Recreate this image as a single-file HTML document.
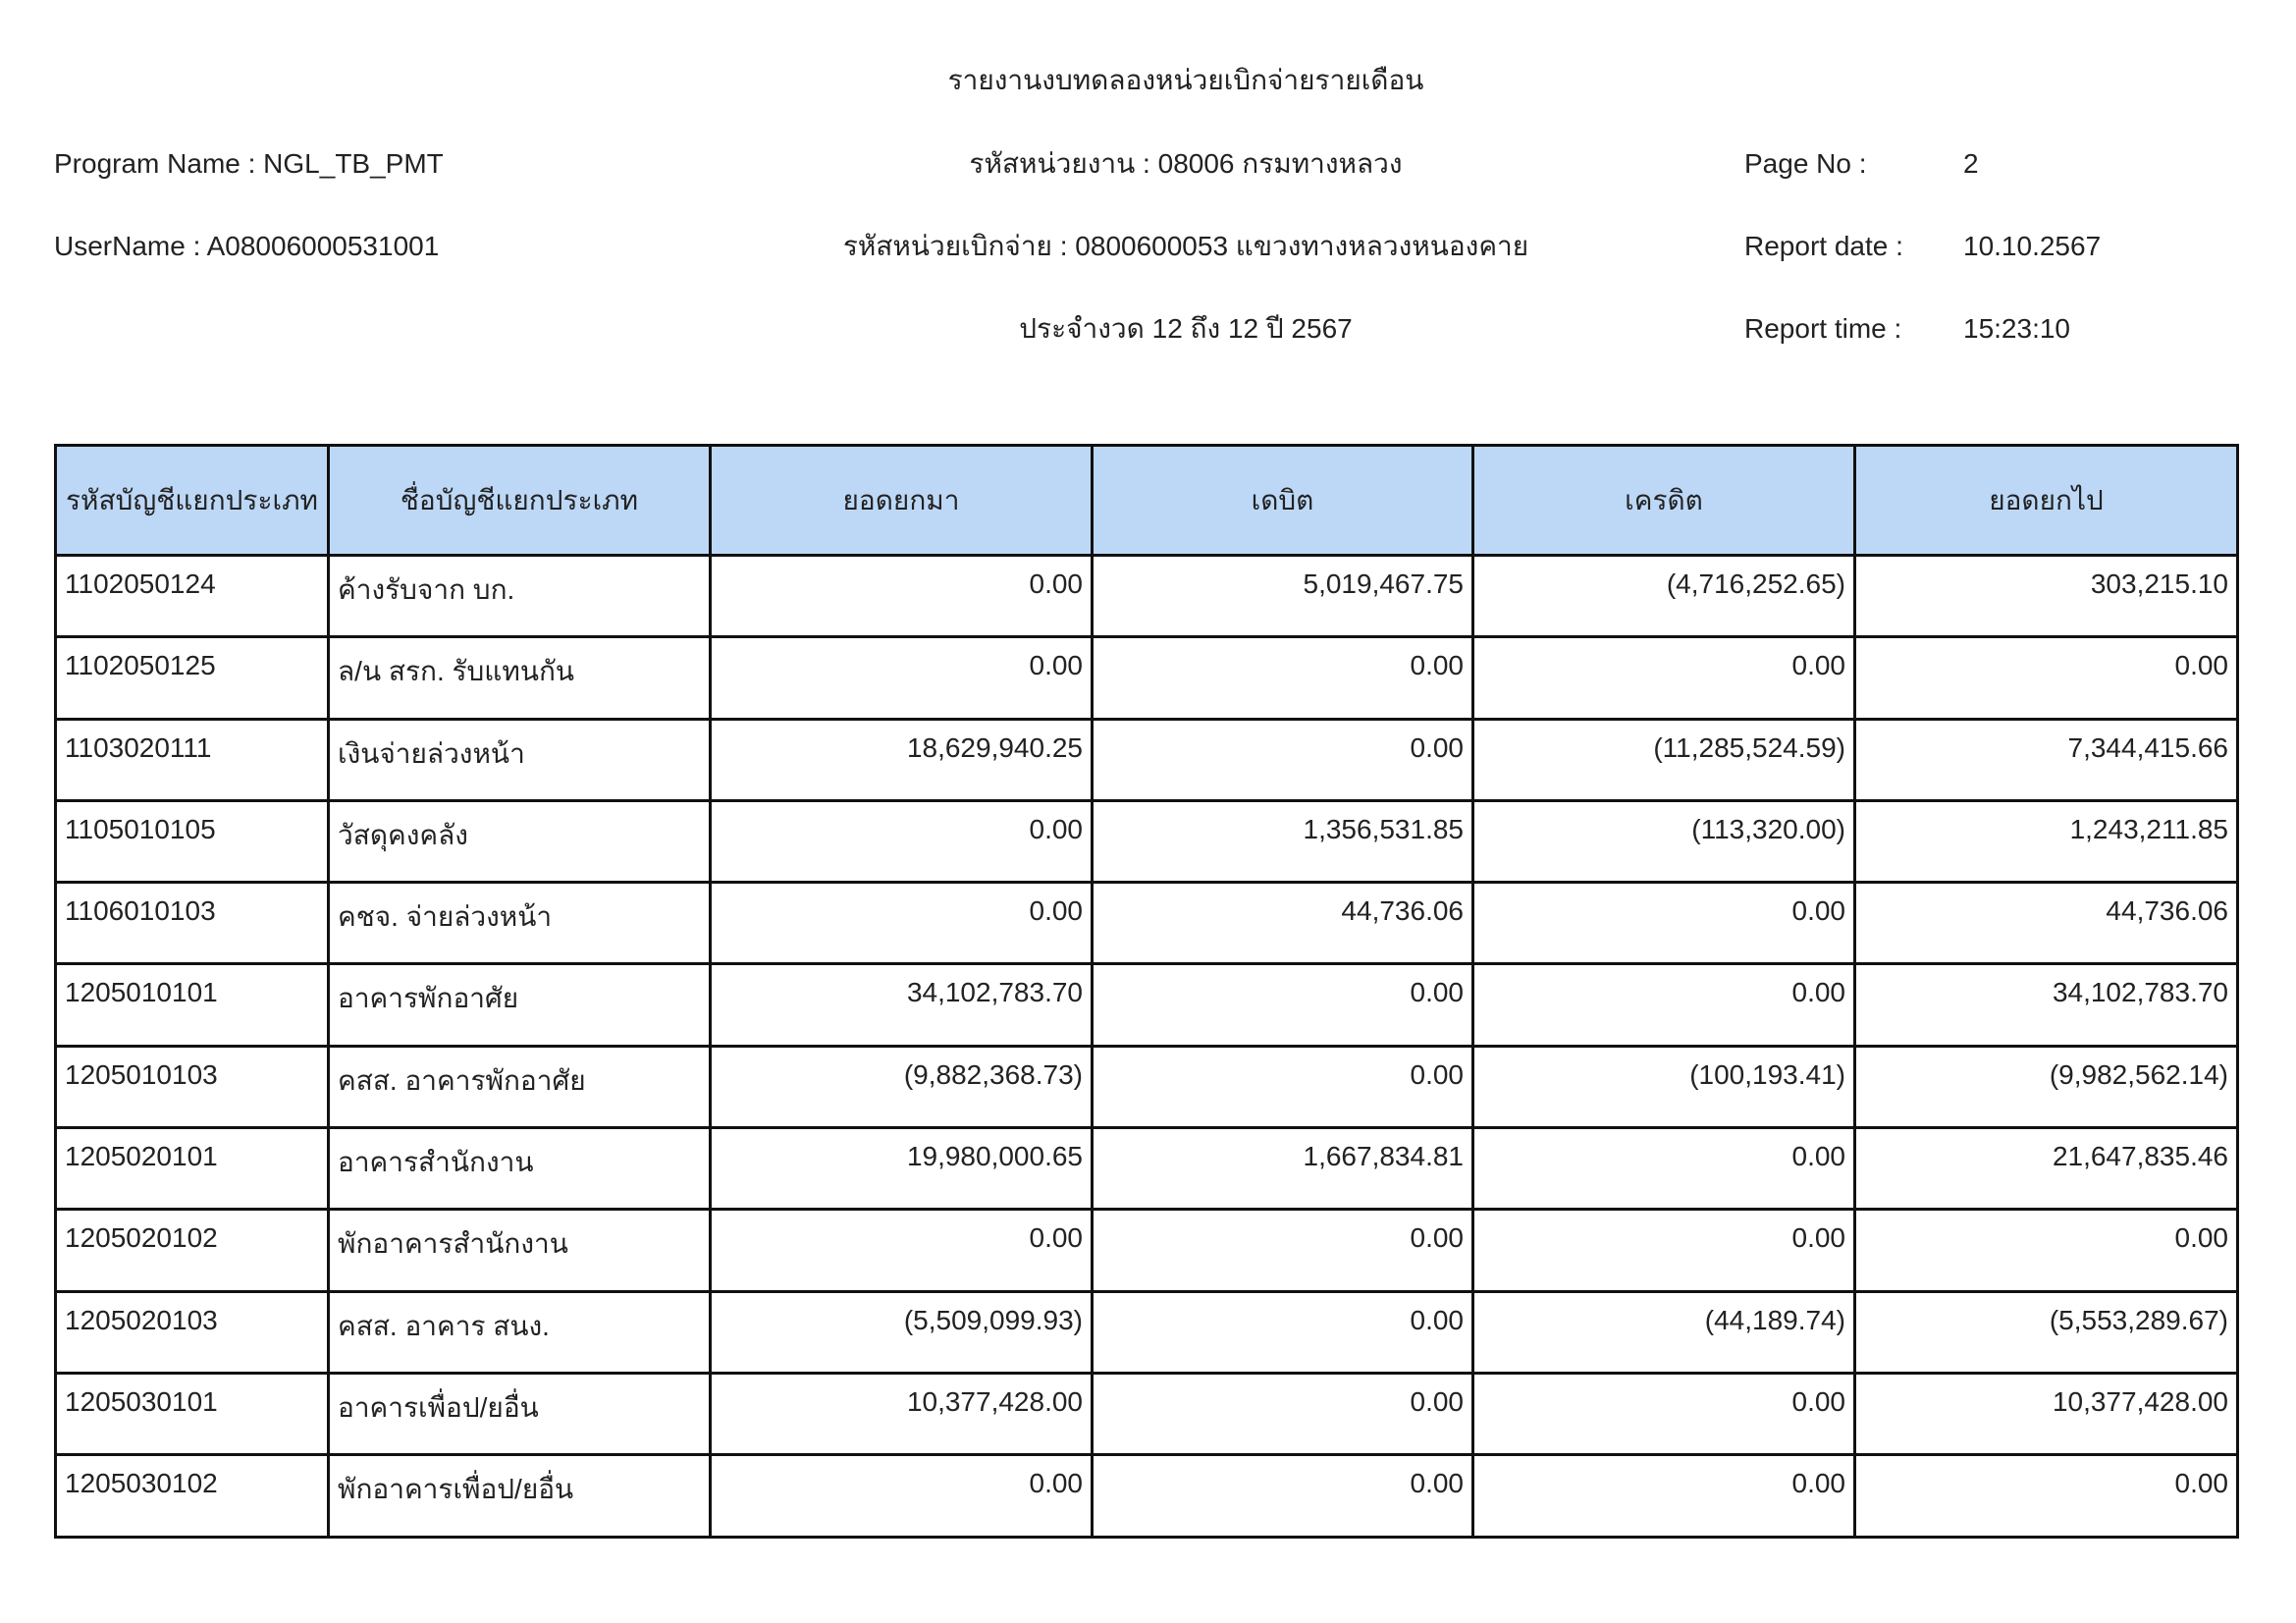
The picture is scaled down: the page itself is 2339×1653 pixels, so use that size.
<!DOCTYPE html>
<html><head><meta charset="utf-8">
<style>
body{margin:0;background:#fff;width:2339px;height:1653px;position:relative;overflow:hidden;font-family:"Liberation Sans","DejaVu Sans","Noto Sans CJK SC",sans-serif;color:#222;font-size:28px;}
.t{position:absolute;white-space:nowrap;line-height:1;}
.c{transform:translateX(-50%);}
table{position:absolute;left:55px;top:452px;width:2225px;border-collapse:collapse;table-layout:fixed;}
td,th{border:3px solid #111;padding:0 8px;font-weight:normal;font-size:28px;overflow:hidden;white-space:nowrap;}
th{background:#bdd8f7;height:112px;text-align:center;box-sizing:border-box;}
td{height:83.3px;vertical-align:top;padding-top:12px;box-sizing:border-box;}
td.n{text-align:right;}
</style></head><body>
<div class="t c" style="left:1208px;top:68px">รายงานงบทดลองหน่วยเบิกจ่ายรายเดือน</div>
<div class="t" style="left:55px;top:153px">Program Name : NGL_TB_PMT</div>
<div class="t c" style="left:1208px;top:153px">รหัสหน่วยงาน : 08006 กรมทางหลวง</div>
<div class="t" style="left:1777px;top:153px">Page No :</div>
<div class="t" style="left:2000px;top:153px">2</div>
<div class="t" style="left:55px;top:237px">UserName : A08006000531001</div>
<div class="t c" style="left:1208px;top:237px">รหัสหน่วยเบิกจ่าย : 0800600053 แขวงทางหลวงหนองคาย</div>
<div class="t" style="left:1777px;top:237px">Report date :</div>
<div class="t" style="left:2000px;top:237px">10.10.2567</div>
<div class="t c" style="left:1208px;top:321px">ประจำงวด 12 ถึง 12 ปี 2567</div>
<div class="t" style="left:1777px;top:321px">Report time :</div>
<div class="t" style="left:2000px;top:321px">15:23:10</div>
<table>
<colgroup><col style="width:278px"><col style="width:389px"><col style="width:389px"><col style="width:388px"><col style="width:389px"><col style="width:390px"></colgroup>
<tr><th>รหัสบัญชีแยกประเภท</th><th>ชื่อบัญชีแยกประเภท</th><th>ยอดยกมา</th><th>เดบิต</th><th>เครดิต</th><th>ยอดยกไป</th></tr>
<tr><td>1102050124</td><td>ค้างรับจาก บก.</td><td class="n">0.00</td><td class="n">5,019,467.75</td><td class="n">(4,716,252.65)</td><td class="n">303,215.10</td></tr>
<tr><td>1102050125</td><td>ล/น สรก. รับแทนกัน</td><td class="n">0.00</td><td class="n">0.00</td><td class="n">0.00</td><td class="n">0.00</td></tr>
<tr><td>1103020111</td><td>เงินจ่ายล่วงหน้า</td><td class="n">18,629,940.25</td><td class="n">0.00</td><td class="n">(11,285,524.59)</td><td class="n">7,344,415.66</td></tr>
<tr><td>1105010105</td><td>วัสดุคงคลัง</td><td class="n">0.00</td><td class="n">1,356,531.85</td><td class="n">(113,320.00)</td><td class="n">1,243,211.85</td></tr>
<tr><td>1106010103</td><td>คชจ. จ่ายล่วงหน้า</td><td class="n">0.00</td><td class="n">44,736.06</td><td class="n">0.00</td><td class="n">44,736.06</td></tr>
<tr><td>1205010101</td><td>อาคารพักอาศัย</td><td class="n">34,102,783.70</td><td class="n">0.00</td><td class="n">0.00</td><td class="n">34,102,783.70</td></tr>
<tr><td>1205010103</td><td>คสส. อาคารพักอาศัย</td><td class="n">(9,882,368.73)</td><td class="n">0.00</td><td class="n">(100,193.41)</td><td class="n">(9,982,562.14)</td></tr>
<tr><td>1205020101</td><td>อาคารสำนักงาน</td><td class="n">19,980,000.65</td><td class="n">1,667,834.81</td><td class="n">0.00</td><td class="n">21,647,835.46</td></tr>
<tr><td>1205020102</td><td>พักอาคารสำนักงาน</td><td class="n">0.00</td><td class="n">0.00</td><td class="n">0.00</td><td class="n">0.00</td></tr>
<tr><td>1205020103</td><td>คสส. อาคาร สนง.</td><td class="n">(5,509,099.93)</td><td class="n">0.00</td><td class="n">(44,189.74)</td><td class="n">(5,553,289.67)</td></tr>
<tr><td>1205030101</td><td>อาคารเพื่อป/ยอื่น</td><td class="n">10,377,428.00</td><td class="n">0.00</td><td class="n">0.00</td><td class="n">10,377,428.00</td></tr>
<tr><td>1205030102</td><td>พักอาคารเพื่อป/ยอื่น</td><td class="n">0.00</td><td class="n">0.00</td><td class="n">0.00</td><td class="n">0.00</td></tr>
</table>
</body></html>
